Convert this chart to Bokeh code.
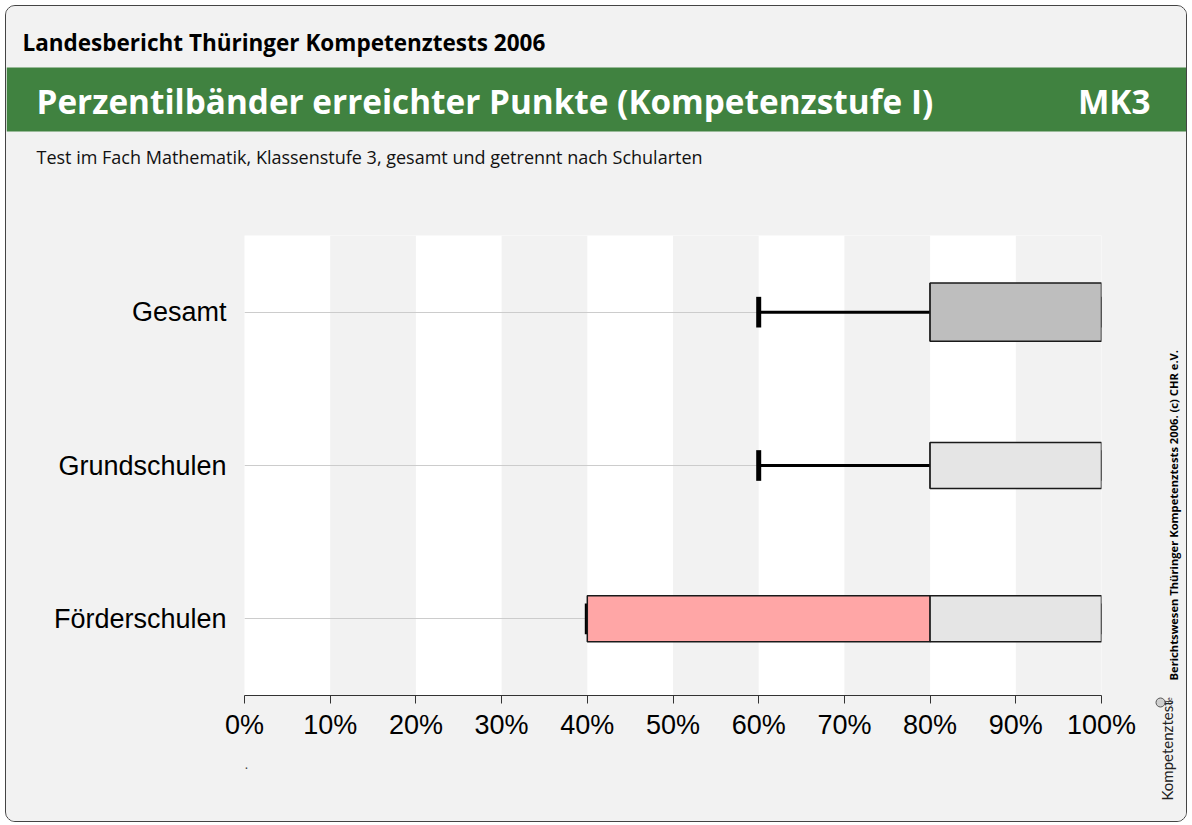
import math
from bokeh.plotting import figure
from bokeh.layouts import column, row
from bokeh.models import (Range1d, FactorRange, FixedTicker, PrintfTickFormatter, Title,
                          ColumnDataSource, Plot)
from bokeh.core.properties import value
from bokeh.embed import file_html
from bokeh.resources import INLINE

# ---- data ----
groups = ["Gesamt", "Grundschulen", "Förderschulen"]
p05 = [60, 60, 40]
p25 = [80, 80, 40]
p50 = [80, 80, 80]
p75 = [100, 100, 100]
p95 = [100, 100, 100]
lower_colors = ["#bebebe", "#e5e5e5", "#ffa6a6"]
upper_colors = ["#bebebe", "#e5e5e5", "#e5e5e5"]
x_ticks = [0, 10, 20, 30, 40, 50, 60, 70, 80, 90, 100]

header_text = "Landesbericht Thüringer Kompetenztests 2006"
title_text = "Perzentilbänder erreichter Punkte (Kompetenzstufe I)"
code_text = "MK3"
subtitle_text = "Test im Fach Mathematik, Klassenstufe 3, gesamt und getrennt nach Schularten"
credit_text = "Berichtswesen Thüringer Kompetenztests 2006. (c) CHR e.V."

# styling (not data)
box_heights = [0.38, 0.30, 0.30]
BG = "#f2f2f2"
GREEN = "#408240"

# page layout (page pixel coordinates)
X0, Y0 = 6, 6          # inner top-left of the rounded frame
XR = 1186              # inner right edge
XS = 1150              # start of side strip
YH = 235               # bottom of header area / top of plot frame
YB = 821               # bottom of content

HAS_FRAME_ALIGN = "frame_align" in Plot.properties()


def deco_fig(x0, x1, y0, y1):
    f = figure(width=x1 - x0, height=y1 - y0, output_backend="svg", toolbar_location=None,
               x_range=Range1d(x0, x1), y_range=Range1d(-y1, -y0),
               x_axis_type=None, y_axis_type=None, min_border=0)
    f.background_fill_color = BG
    f.border_fill_color = BG
    f.outline_line_color = None
    f.grid.visible = False
    if HAS_FRAME_ALIGN:
        f.frame_align = False
    return f


def txt(f, text, X, Y, size, bold=False, color="black", align="left", angle=0.0,
        font="Open Sans"):
    f.text(x=[X], y=[-Y], text=[text], text_font=value(font), text_font_size=f"{size}px",
           text_font_style="bold" if bold else "normal", text_color=color,
           text_align=align, text_baseline="middle", angle=angle)


# ---- header ----
hdr = deco_fig(X0, XR, Y0, YH)
hdr.quad(left=[X0], right=[XR], top=[-67], bottom=[-131], fill_color=GREEN, line_color=None)
txt(hdr, header_text, 22, 42, 22.5, bold=True)
txt(hdr, title_text, 36, 100, 33.3, bold=True, color="white")
txt(hdr, code_text, 1150, 100, 33.3, bold=True, color="white", align="right")
txt(hdr, subtitle_text, 36, 156, 18, color="#111111")

# ---- chart ----
p = figure(width=XS - X0, height=YB - YH, output_backend="svg", toolbar_location=None,
           x_range=Range1d(0, 100), y_range=FactorRange(factors=groups[::-1], range_padding=0),
           min_border_left=244 - X0, min_border_right=XS - 1101, min_border_top=0,
           min_border_bottom=YB - 695)
if HAS_FRAME_ALIGN:
    p.frame_align = False
p.background_fill_color = "white"
p.border_fill_color = BG
p.outline_line_color = None

p.xgrid.grid_line_color = None
p.xgrid.band_fill_color = BG
p.xgrid.band_fill_alpha = 1.0
p.xaxis.ticker = FixedTicker(ticks=x_ticks)
p.xaxis.formatter = PrintfTickFormatter(format="%d%%")
p.xaxis.axis_line_color = "#333333"
p.xaxis.major_tick_line_color = "#333333"
p.xaxis.major_tick_out = 8
p.xaxis.major_tick_in = 0
p.xaxis.minor_tick_line_color = None
p.xaxis.minor_tick_out = 0
p.xaxis.major_label_text_font = "Liberation Sans"
p.xaxis.major_label_text_font_size = "27px"
p.xaxis.major_label_text_color = "black"
p.xaxis.major_label_standoff = 6

p.ygrid.grid_line_color = "#cccccc"
p.ygrid.grid_line_width = 1
p.yaxis.axis_line_color = None
p.yaxis.major_tick_line_color = None
p.yaxis.major_tick_out = 0
p.yaxis.major_tick_in = 0
p.yaxis.minor_tick_line_color = None
p.yaxis.minor_tick_out = 0
p.yaxis.major_label_text_font = "Liberation Sans"
p.yaxis.major_label_text_font_size = "27px"
p.yaxis.major_label_text_color = "black"
p.yaxis.major_label_standoff = 18

p.add_layout(Title(text=".", align="left", text_font="Liberation Sans",
                   text_font_size="14px", text_font_style="normal", standoff=28), "below")

src = ColumnDataSource(dict(g=groups, p05=p05, p25=p25, p50=p50, p75=p75, p95=p95,
                            lc=lower_colors, uc=upper_colors, h=box_heights))

# whiskers
p.segment(x0="p05", y0="g", x1="p25", y1="g", source=src, line_color="black", line_width=3)
p.segment(x0="p75", y0="g", x1="p95", y1="g", source=src, line_color="black", line_width=3)
# caps
p.rect(x="p05", y="g", width=5, width_units="screen", height=0.2, source=src,
       fill_color="black", line_color=None)
p.rect(x="p95", y="g", width=6, width_units="screen", height=0.2, source=src,
       fill_color="black", line_color=None)
# boxes
p.hbar(y="g", left="p25", right="p50", height="h", source=src, fill_color="lc",
       line_color="#1a1a1a", line_width=1.5)
p.hbar(y="g", left="p50", right="p75", height="h", source=src, fill_color="uc",
       line_color="#1a1a1a", line_width=1.5)

# ---- side strip ----
side = deco_fig(XS, XR, YH, YB)
txt(side, credit_text, 1173, 680, 11.2, bold=True, angle=math.pi / 2)
txt(side, "Kompetenztest", 1166, 800, 15, angle=math.pi / 2, color="#222222", font="Lato")
txt(side, ".de", 1168, 706, 7, angle=math.pi / 2, color="#222222", font="Lato")
side.scatter(x=[1160], y=[-702], size=9, marker="circle", fill_color="#cfcfcf",
             line_color="#555555", line_width=1)

layout = column(hdr, row(p, side, spacing=0), spacing=0,
                styles={"border": "1px solid #444444", "border-radius": "10px",
                        "margin-left": "5px", "margin-top": "5px", "overflow": "hidden",
                        "background-color": BG})

open("out.html", "w").write(file_html(layout, INLINE))
